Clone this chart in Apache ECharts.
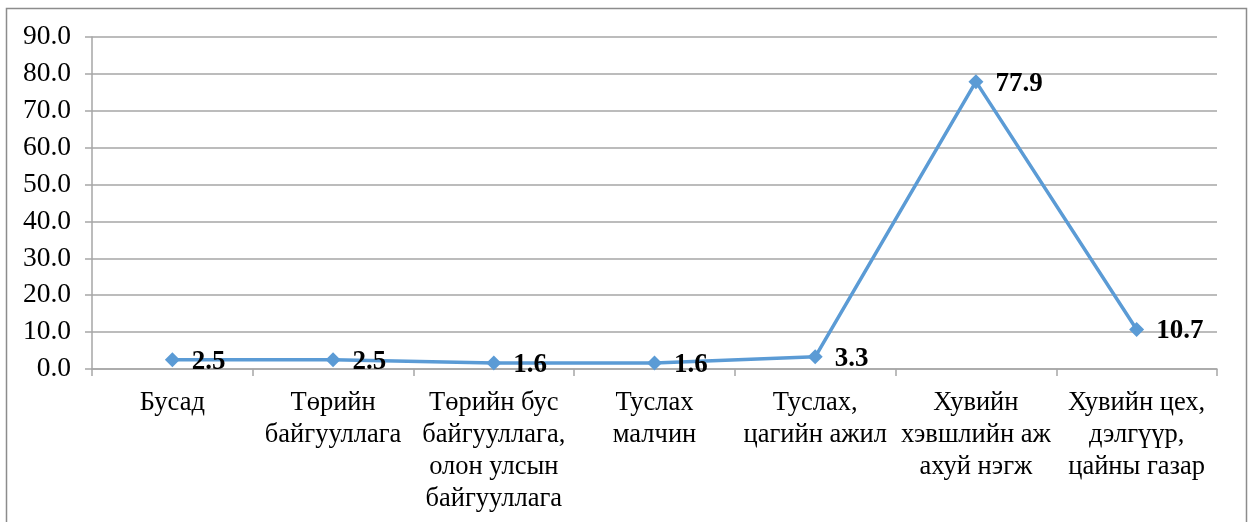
<!DOCTYPE html>
<html>
<head>
<meta charset="utf-8">
<script src="https://cdn.jsdelivr.net/npm/echarts@6/dist/echarts.min.js"></script>
<style>
html,body{margin:0;padding:0;background:#fff;}
#chart{width:1254px;height:522px;}
</style>
</head>
<body>
<div id="chart"></div>
<script>
const categories = [
  "Бусад",
  "Төрийн\nбайгууллага",
  "Төрийн бус\nбайгууллага,\nолон улсын\nбайгууллага",
  "Туслах\nмалчин",
  "Туслах,\nцагийн ажил",
  "Хувийн\nхэвшлийн аж\nахуй нэгж",
  "Хувийн цех,\nдэлгүүр,\nцайны газар"
];
const values = [2.5, 2.5, 1.6, 1.6, 3.3, 77.9, 10.7];
const yMin = 0, yMax = 90, yStep = 10;

const FONT = '"Liberation Serif", "Times New Roman", serif';
const GRID = '#a6a6a6';
const chart = echarts.init(document.getElementById('chart'), null, {renderer: 'canvas'});
chart.setOption({
  animation: false,
  backgroundColor: '#fff',
  graphic: [{
    type: 'rect',
    shape: {x: 6.5, y: 8.5, width: 1240, height: 600},
    style: {fill: 'none', stroke: '#8c8c8c', lineWidth: 1.5},
    silent: true
  }],
  grid: {left: 92, right: 37, top: 37, bottom: 153, containLabel: false},
  xAxis: {
    type: 'category',
    data: categories,
    boundaryGap: true,
    axisLine: {show: true, lineStyle: {color: GRID, width: 1.5}},
    axisTick: {show: true, length: 7, alignWithLabel: false, lineStyle: {color: GRID, width: 1.5}},
    axisLabel: {
      interval: 0, margin: 18, color: '#000',
      fontFamily: FONT, fontSize: 26.5, lineHeight: 32, align: 'center'
    },
    splitLine: {show: false}
  },
  yAxis: {
    type: 'value',
    min: yMin, max: yMax, interval: yStep,
    axisLine: {show: true, lineStyle: {color: GRID, width: 1.5}},
    axisTick: {show: true, length: 7, lineStyle: {color: GRID, width: 1.5}},
    axisLabel: {
      margin: 21, color: '#000', fontFamily: FONT, fontSize: 27.5,
      formatter: v => v.toFixed(1)
    },
    splitLine: {show: true, lineStyle: {color: GRID, width: 1.5}}
  },
  series: [{
    type: 'line',
    data: values,
    symbol: 'diamond',
    symbolSize: 15,
    showAllSymbol: true,
    lineStyle: {color: '#5B9BD5', width: 3.5},
    itemStyle: {color: '#5B9BD5'},
    label: {
      show: true, position: 'right', distance: 12,
      color: '#000', fontFamily: FONT, fontSize: 27, fontWeight: 'bold',
      formatter: p => p.value.toFixed(1),
      offset: [0, 2]
    },
    z: 3
  }]
});
</script>
</body>
</html>
